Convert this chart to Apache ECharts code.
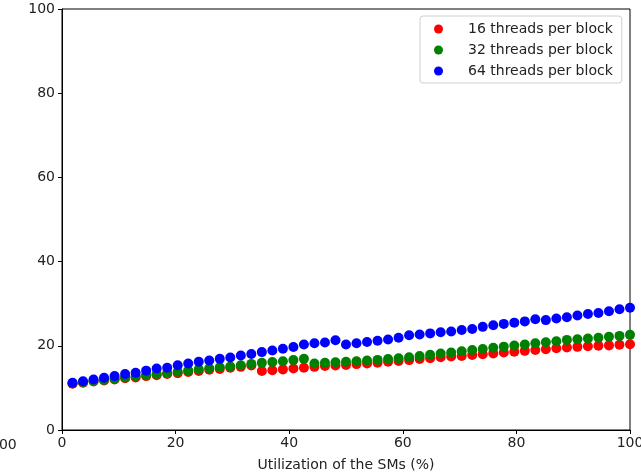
<!DOCTYPE html>
<html>
<head>
<meta charset="utf-8">
<script src="https://cdn.jsdelivr.net/npm/echarts@6/dist/echarts.min.js"></script>
<style>
  html, body { margin: 0; padding: 0; background: #fff; }
  #chart { width: 641px; height: 472px; }
</style>
</head>
<body>
<div id="chart"></div>
<script>
// Utilization in percent: one point per active SM, out of 54 SMs
const smCount = 54;
const utilization = Array.from({ length: smCount }, (_, i) => (i + 1) * 100 / smCount);

const seriesNames = ['16 threads per block', '32 threads per block', '64 threads per block'];
const seriesColors = ['#ff0000', '#008000', '#0000ff'];

const threads16 = [
  11.0, 11.25, 11.5, 11.75, 12.0, 12.3, 12.5, 12.8, 13.0, 13.3,
  13.5, 13.8, 14.0, 14.3, 14.5, 14.8, 15.0, 15.3, 14.0, 14.2,
  14.4, 14.6, 14.8, 15.0, 15.2, 15.3, 15.45, 15.65, 15.8, 16.0,
  16.2, 16.4, 16.6, 16.85, 17.05, 17.3, 17.45, 17.6, 17.8, 18.0,
  18.2, 18.4, 18.6, 18.8, 19.0, 19.2, 19.4, 19.6, 19.75, 19.9,
  20.0, 20.1, 20.25, 20.35
];
const threads32 = [
  11.1, 11.35, 11.65, 11.9, 12.2, 12.45, 12.75, 13.0, 13.3, 13.55,
  13.85, 14.1, 14.4, 14.65, 14.9, 15.1, 15.4, 15.7, 15.95, 16.15,
  16.35, 16.6, 16.9, 15.8, 15.95, 16.1, 16.2, 16.35, 16.5, 16.65,
  16.85, 17.05, 17.3, 17.55, 17.85, 18.15, 18.4, 18.7, 19.0, 19.25,
  19.55, 19.8, 20.05, 20.3, 20.6, 20.85, 21.1, 21.4, 21.55, 21.75,
  21.9, 22.15, 22.35, 22.6
];
const threads64 = [
  11.2, 11.6, 12.0, 12.4, 12.8, 13.3, 13.6, 14.1, 14.6, 14.8,
  15.4, 15.8, 16.2, 16.5, 16.9, 17.2, 17.7, 18.05, 18.5, 18.9,
  19.3, 19.7, 20.3, 20.6, 20.8, 21.3, 20.3, 20.6, 20.9, 21.2,
  21.5, 21.9, 22.5, 22.7, 22.95, 23.2, 23.4, 23.75, 24.0, 24.5,
  24.9, 25.2, 25.5, 25.8, 26.3, 26.1, 26.5, 26.8, 27.2, 27.55,
  27.8, 28.2, 28.7, 29.05
];

const xTicks = { min: 0, max: 100, interval: 20 };
const yTicks = { min: 0, max: 100, interval: 20 };
const xAxisTitle = 'Utilization of the SMs (%)';

const allValues = [threads16, threads32, threads64];
const font = 'DejaVu Sans';

const chart = echarts.init(document.getElementById('chart'), null, { renderer: 'canvas' });

const axisCommon = {
  type: 'value',
  axisLine: { show: true, lineStyle: { color: '#000', width: 1 } },
  axisTick: { show: true, inside: false, length: 4, lineStyle: { color: '#000' } },
  axisLabel: { color: '#222', fontFamily: font, fontSize: 14 },
  splitLine: { show: false }
};

chart.setOption({
  animation: false,
  backgroundColor: '#fff',
  grid: {
    left: 62, right: 11, top: 9, bottom: 42,
    containLabel: false,
    outerBoundsMode: 'none',
    show: true, borderColor: '#000', borderWidth: 1, backgroundColor: 'transparent'
  },
  xAxis: Object.assign({}, axisCommon, {
    min: xTicks.min, max: xTicks.max, interval: xTicks.interval,
    name: xAxisTitle, nameLocation: 'middle', nameGap: 28,
    nameTextStyle: { color: '#222', fontFamily: font, fontSize: 14 },
    axisLabel: Object.assign({}, axisCommon.axisLabel, { margin: 6 })
  }),
  yAxis: Object.assign({}, axisCommon, {
    min: yTicks.min, max: yTicks.max, interval: yTicks.interval,
    axisLabel: Object.assign({}, axisCommon.axisLabel, { margin: 7 })
  }),
  legend: {
    orient: 'vertical',
    left: 420, top: 16,
    padding: [6, 9, 5, 14],
    itemGap: 7,
    itemWidth: 9, itemHeight: 14,
    icon: 'circle',
    backgroundColor: '#fff',
    borderColor: '#d0d0d0', borderWidth: 1, borderRadius: 3,
    textStyle: { color: '#222', fontFamily: font, fontSize: 14, padding: [0, 0, 0, 20] },
    data: seriesNames
  },
  graphic: [{
    type: 'text', left: -10, top: 438,
    style: { text: '100', fill: '#222', font: '14px "DejaVu Sans"' }
  }],
  series: seriesNames.map((name, i) => ({
    name: name,
    type: 'scatter',
    symbol: 'circle',
    symbolSize: 10,
    clip: true,
    itemStyle: { color: seriesColors[i], opacity: 1 },
    data: utilization.map((u, j) => [u, allValues[i][j]])
  }))
});
</script>
</body>
</html>
